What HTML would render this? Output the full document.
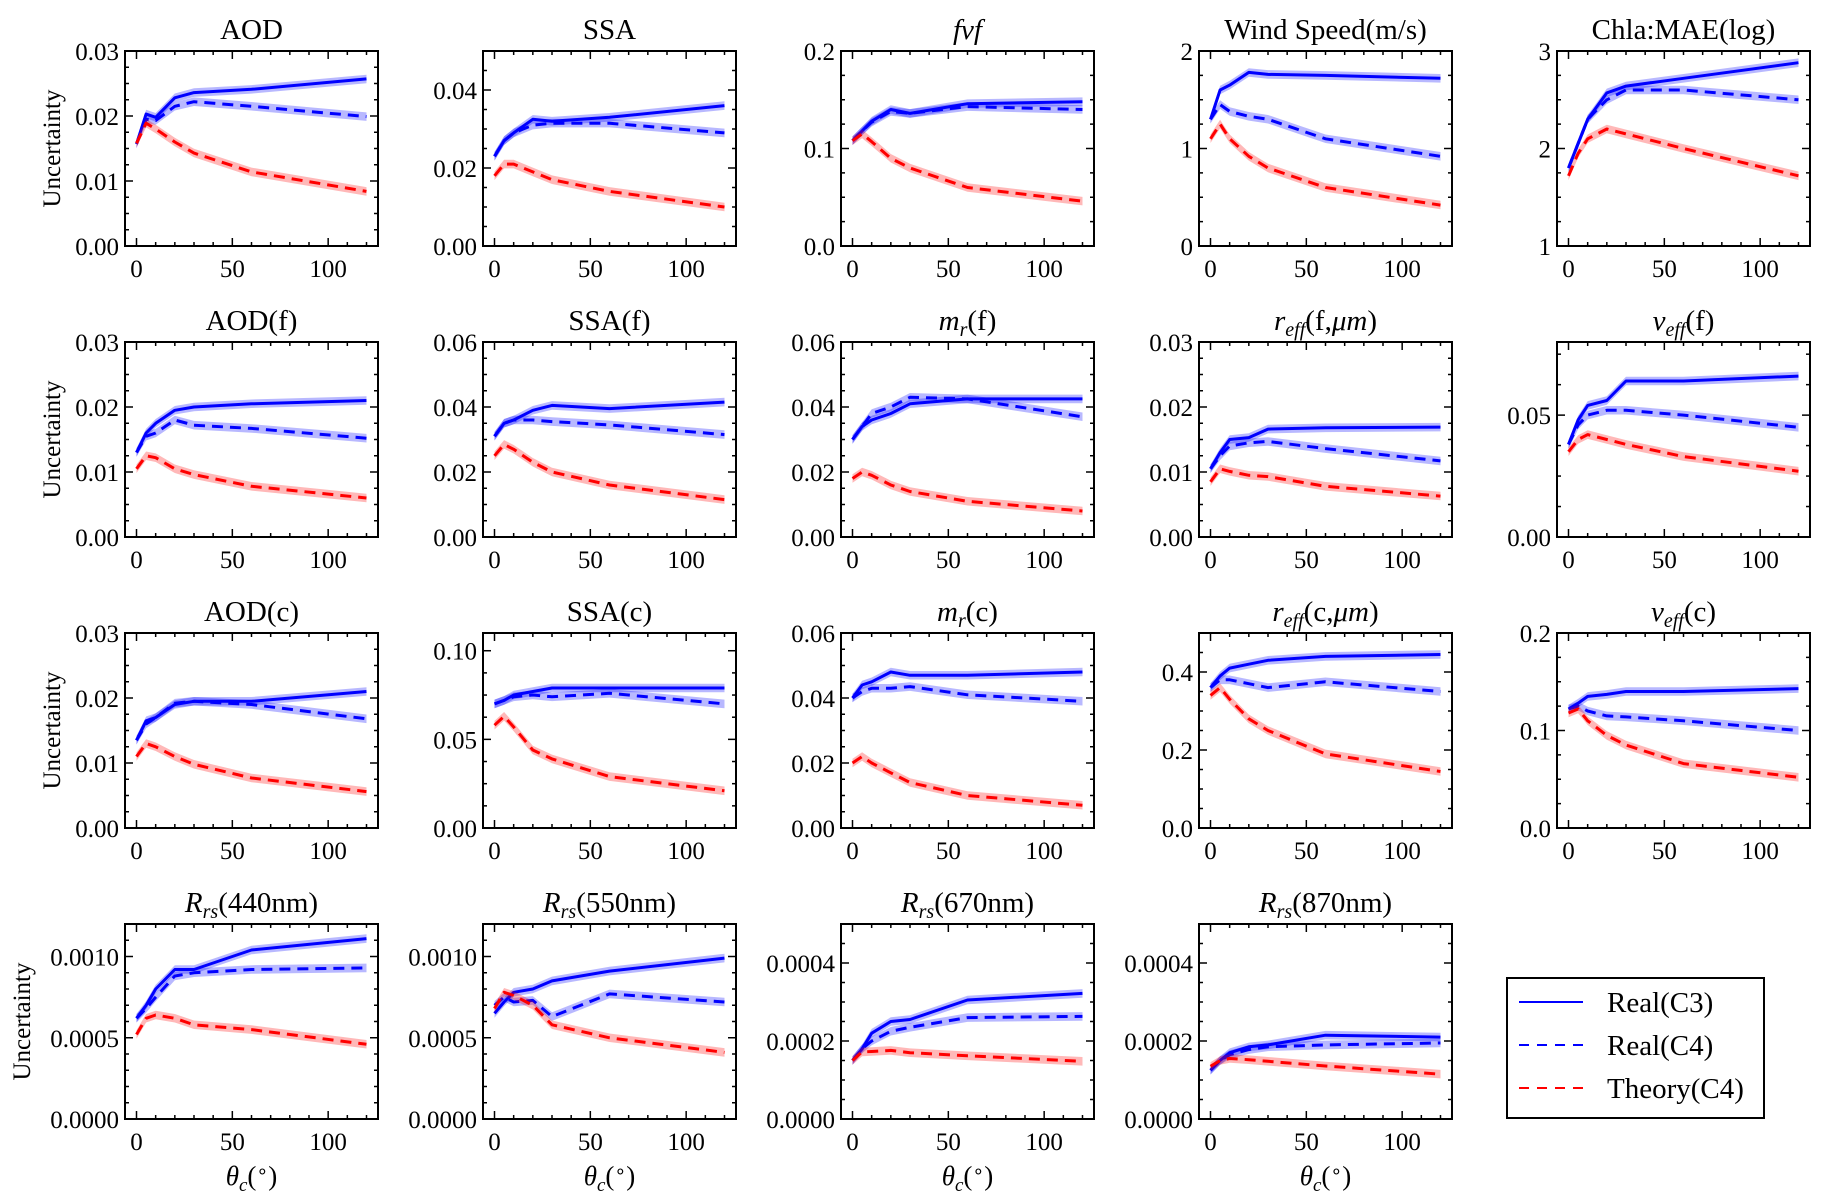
<!DOCTYPE html>
<html><head><meta charset="utf-8"><style>
html,body{margin:0;padding:0;background:#fff;}
svg{display:block;font-family:"Liberation Serif",serif;}
</style></head><body>
<svg id="fig" width="1828" height="1199" viewBox="0 0 1828 1199" xmlns="http://www.w3.org/2000/svg"></svg>
<script>
const thetaValues = [0, 5, 10, 20, 30, 60, 120];
const panelTitles = ["AOD","SSA","fvf","Wind Speed(m/s)","Chla:MAE(log)",
 "AOD(f)","SSA(f)","mr(f)","reff(f)","veff(f)",
 "AOD(c)","SSA(c)","mr(c)","reff(c)","veff(c)",
 "Rrs440","Rrs550","Rrs670","Rrs870"];
const yMinValues = [0,0,0,0,1, 0,0,0,0,0, 0,0,0,0,0, 0,0,0,0];
const yMaxValues = [0.03,0.05,0.2,2,3, 0.03,0.06,0.06,0.03,0.08, 0.03,0.11,0.06,0.5,0.2, 0.0012,0.0012,0.0005,0.0005];
const yTickValues = [
 [0,0.01,0.02,0.03],[0,0.02,0.04],[0,0.1,0.2],[0,1,2],[1,2,3],
 [0,0.01,0.02,0.03],[0,0.02,0.04,0.06],[0,0.02,0.04,0.06],[0,0.01,0.02,0.03],[0,0.05],
 [0,0.01,0.02,0.03],[0,0.05,0.1],[0,0.02,0.04,0.06],[0,0.2,0.4],[0,0.1,0.2],
 [0,0.0005,0.001],[0,0.0005,0.001],[0,0.0002,0.0004],[0,0.0002,0.0004]];
const yTickLabels = [
 ["0.00","0.01","0.02","0.03"],["0.00","0.02","0.04"],["0.0","0.1","0.2"],["0","1","2"],["1","2","3"],
 ["0.00","0.01","0.02","0.03"],["0.00","0.02","0.04","0.06"],["0.00","0.02","0.04","0.06"],["0.00","0.01","0.02","0.03"],["0.00","0.05"],
 ["0.00","0.01","0.02","0.03"],["0.00","0.05","0.10"],["0.00","0.02","0.04","0.06"],["0.0","0.2","0.4"],["0.0","0.1","0.2"],
 ["0.0000","0.0005","0.0010"],["0.0000","0.0005","0.0010"],["0.0000","0.0002","0.0004"],["0.0000","0.0002","0.0004"]];
const yMinorStep = [0.0025,0.005,0.025,0.25,0.25, 0.0025,0.005,0.005,0.0025,0.0125, 0.0025,0.0125,0.005,0.05,0.025, 0.0001,0.0001,0.00005,0.00005];
const realC3 = [
 [0.0157,0.0203,0.0198,0.0228,0.0236,0.0241,0.0257],
 [0.023,0.027,0.029,0.0325,0.032,0.033,0.036],
 [0.108,0.118,0.128,0.140,0.136,0.146,0.148],
 [1.3,1.6,1.65,1.78,1.76,1.75,1.72],
 [1.8,2.05,2.3,2.57,2.64,2.72,2.88],
 [0.013,0.016,0.0175,0.0195,0.020,0.0205,0.021],
 [0.031,0.035,0.036,0.039,0.0405,0.0395,0.0415],
 [0.030,0.034,0.036,0.038,0.041,0.0425,0.0425],
 [0.0105,0.013,0.015,0.0153,0.0166,0.0168,0.0169],
 [0.038,0.048,0.054,0.056,0.064,0.064,0.066],
 [0.0135,0.0165,0.017,0.019,0.0195,0.0195,0.021],
 [0.070,0.072,0.075,0.077,0.079,0.079,0.079],
 [0.040,0.044,0.045,0.048,0.047,0.047,0.048],
 [0.36,0.39,0.41,0.42,0.43,0.44,0.445],
 [0.122,0.128,0.135,0.137,0.14,0.14,0.143],
 [0.00062,0.00070,0.00080,0.00092,0.00092,0.00104,0.00111],
 [0.00065,0.00072,0.00078,0.00080,0.00085,0.00091,0.00099],
 [0.00015,0.00018,0.00022,0.00025,0.000255,0.000305,0.000322],
 [0.000125,0.00015,0.00017,0.000185,0.00019,0.000215,0.00021]];
const realC4 = [
 [0.0157,0.0195,0.0193,0.0215,0.0222,0.0215,0.0199],
 [0.023,0.027,0.029,0.031,0.0315,0.0315,0.029],
 [0.108,0.118,0.127,0.138,0.136,0.143,0.140],
 [1.3,1.45,1.38,1.33,1.30,1.1,0.92],
 [1.8,2.05,2.3,2.5,2.6,2.6,2.5],
 [0.013,0.0155,0.016,0.018,0.0172,0.0167,0.0152],
 [0.031,0.035,0.036,0.036,0.0355,0.0345,0.0315],
 [0.030,0.034,0.038,0.040,0.043,0.0425,0.037],
 [0.0105,0.0125,0.014,0.0145,0.0147,0.0136,0.0117],
 [0.038,0.046,0.050,0.052,0.052,0.050,0.045],
 [0.0135,0.016,0.017,0.0192,0.0195,0.019,0.0168],
 [0.070,0.072,0.074,0.075,0.074,0.076,0.070],
 [0.040,0.042,0.043,0.043,0.0435,0.041,0.039],
 [0.36,0.38,0.38,0.37,0.36,0.375,0.35],
 [0.122,0.125,0.12,0.115,0.114,0.11,0.10],
 [0.00062,0.00068,0.00075,0.00088,0.00090,0.00092,0.00093],
 [0.00070,0.00075,0.00072,0.00073,0.00063,0.00077,0.00072],
 [0.00015,0.00018,0.00020,0.000225,0.000235,0.00026,0.000263],
 [0.000125,0.00015,0.000165,0.000178,0.000185,0.00019,0.000195]];
const theoryC4 = [
 [0.0158,0.0189,0.0180,0.0160,0.0143,0.0114,0.0084],
 [0.018,0.021,0.021,0.019,0.017,0.014,0.010],
 [0.108,0.115,0.107,0.090,0.080,0.060,0.046],
 [1.1,1.25,1.1,0.92,0.8,0.6,0.42],
 [1.72,1.95,2.1,2.2,2.15,2.0,1.72],
 [0.0105,0.0125,0.0122,0.0105,0.0096,0.0078,0.006],
 [0.025,0.0285,0.027,0.023,0.020,0.016,0.0115],
 [0.018,0.020,0.019,0.016,0.014,0.011,0.008],
 [0.0085,0.0105,0.0101,0.0095,0.0093,0.0078,0.0063],
 [0.035,0.040,0.042,0.040,0.038,0.033,0.027],
 [0.011,0.013,0.0125,0.011,0.0098,0.0077,0.0056],
 [0.058,0.063,0.057,0.044,0.039,0.029,0.021],
 [0.020,0.022,0.020,0.017,0.014,0.010,0.007],
 [0.34,0.36,0.33,0.28,0.25,0.19,0.145],
 [0.118,0.122,0.11,0.095,0.085,0.066,0.052],
 [0.00052,0.00062,0.00064,0.00062,0.00058,0.00055,0.00046],
 [0.00068,0.00078,0.00076,0.00070,0.00058,0.00050,0.00041],
 [0.00015,0.000172,0.000173,0.000176,0.00017,0.000162,0.000148],
 [0.000135,0.00015,0.000155,0.000152,0.000148,0.000136,0.000115]];
const xTickValues = [0, 50, 100];

const NS = "http://www.w3.org/2000/svg";
const svg = document.getElementById('fig');
function mk(tag, attrs, parent) {
  const e = document.createElementNS(NS, tag);
  for (const k in attrs) e.setAttribute(k, attrs[k]);
  (parent || svg).appendChild(e);
  return e;
}
function titleMarkup(t) {
  const m = {
    "fvf": '<tspan font-style="italic">fvf</tspan>',
    "mr(f)": '<tspan font-style="italic">m</tspan><tspan font-style="italic" font-size="20" dy="6">r</tspan><tspan dy="-6">(f)</tspan>',
    "mr(c)": '<tspan font-style="italic">m</tspan><tspan font-style="italic" font-size="20" dy="6">r</tspan><tspan dy="-6">(c)</tspan>',
    "reff(f)": '<tspan font-style="italic">r</tspan><tspan font-style="italic" font-size="20" dy="6">eff</tspan><tspan dy="-6">(f,</tspan><tspan font-style="italic">μm</tspan>)',
    "reff(c)": '<tspan font-style="italic">r</tspan><tspan font-style="italic" font-size="20" dy="6">eff</tspan><tspan dy="-6">(c,</tspan><tspan font-style="italic">μm</tspan>)',
    "veff(f)": '<tspan font-style="italic">v</tspan><tspan font-style="italic" font-size="20" dy="6">eff</tspan><tspan dy="-6">(f)</tspan>',
    "veff(c)": '<tspan font-style="italic">v</tspan><tspan font-style="italic" font-size="20" dy="6">eff</tspan><tspan dy="-6">(c)</tspan>'
  };
  if (m[t]) return m[t];
  if (t.startsWith("Rrs")) return '<tspan font-style="italic">R</tspan><tspan font-style="italic" font-size="20" dy="6">rs</tspan><tspan dy="-6">(' + t.slice(3) + 'nm)</tspan>';
  return t;
}
const L0 = 125, DX = 358, T0 = 51, DY = 291, W = 253, H = 195;
const xMin = -6, xMax = 126;
for (let p = 0; p < panelTitles.length; p++) {
  const col = p % 5, row = Math.floor(p / 5);
  const left = L0 + col * DX, top = T0 + row * DY;
  const g = mk('g', {});
  
  
  const sx = v => left + (v - xMin) / (xMax - xMin) * W;
  const y0 = yMinValues[p], y1 = yMaxValues[p];
  const sy = v => top + H - (v - y0) / (y1 - y0) * H;
  const series = [[realC3[p], '#0000ff', 'none', 'rgba(0,0,255,0.28)', 'real-c3'],
                  [realC4[p], '#0000ff', '11,7', 'rgba(0,0,255,0.28)', 'real-c4'],
                  [theoryC4[p], '#ff0000', '11,7', 'rgba(255,0,0,0.28)', 'theory-c4']];
  const band = (y1 - y0) * 0.022;
  for (const [vals, color, dash, fill, nm] of series) {
    let up = [], dn = [];
    for (let i = 0; i < thetaValues.length; i++) {
      up.push(sx(thetaValues[i]).toFixed(1) + ',' + sy(vals[i] + band).toFixed(1));
      dn.unshift(sx(thetaValues[i]).toFixed(1) + ',' + sy(vals[i] - band).toFixed(1));
    }
    const b = mk('polygon', {points: up.concat(dn).join(' '), fill: fill, stroke: 'none'}, g);
    
    
    const pts = thetaValues.map((t, i) => sx(t).toFixed(1) + ',' + sy(vals[i]).toFixed(1)).join(' ');
    const a = {points: pts, fill: 'none', stroke: color, 'stroke-width': 3, 'stroke-linejoin': 'round'};
    if (dash !== 'none') a['stroke-dasharray'] = dash;
    const ln = mk('polyline', a, g);
    
    
  }
  const fr = mk('rect', {x: left, y: top, width: W, height: H, fill: 'none', stroke: '#000', 'stroke-width': 2}, g);
  
  
  for (let v = 0; v <= 120; v += 10) {
    const len = (v % 50 === 0) ? 8 : 4, x = sx(v);
    mk('line', {x1: x, y1: top + H, x2: x, y2: top + H - len, stroke: '#000', 'stroke-width': 1.5}, g);
    mk('line', {x1: x, y1: top, x2: x, y2: top + len, stroke: '#000', 'stroke-width': 1.5}, g);
  }
  for (const v of xTickValues) {
    const t = mk('text', {x: sx(v), y: top + H + 31, 'font-size': 25, 'text-anchor': 'middle'}, g);
    t.textContent = String(v);
    
    
  }
  const ms = yMinorStep[p];
  const n = Math.floor((y1 - y0) / ms + 1e-6);
  for (let i = 0; i <= n; i++) {
    const v = y0 + i * ms, y = sy(v);
    const major = yTickValues[p].some(tv => Math.abs(tv - v) < ms * 0.01);
    const len = major ? 8 : 4;
    mk('line', {x1: left, y1: y, x2: left + len, y2: y, stroke: '#000', 'stroke-width': 1.5}, g);
    mk('line', {x1: left + W, y1: y, x2: left + W - len, y2: y, stroke: '#000', 'stroke-width': 1.5}, g);
  }
  yTickValues[p].forEach((v, i) => {
    const t = mk('text', {x: left - 6, y: sy(v) + 9, 'font-size': 25, 'text-anchor': 'end'}, g);
    t.textContent = yTickLabels[p][i];
    
    
  });
  const tt = mk('text', {x: left + W / 2, y: top - 12, 'font-size': 29, 'text-anchor': 'middle'}, g);
  tt.innerHTML = titleMarkup(panelTitles[p]);
  
  
  if (col === 0) {
    const lx = row === 3 ? 30 : 60;
    const yl = mk('text', {x: 0, y: 0, 'font-size': 25, 'text-anchor': 'middle', transform: 'translate(' + lx + ',' + (top + H / 2) + ') rotate(-90)'}, g);
    yl.textContent = 'Uncertainty';
    
    
  }
  if (row === 3) {
    const xl = mk('text', {x: left + W / 2, y: top + H + 66, 'font-size': 27, 'text-anchor': 'middle'}, g);
    xl.innerHTML = '<tspan font-style="italic">θ</tspan><tspan font-style="italic" font-size="19" dy="6">c</tspan><tspan dy="-6">(</tspan><tspan dy="-7" font-size="19">∘</tspan><tspan dy="7">)</tspan>';
    
    
  }
}
const lg = mk('g', {});


mk('rect', {x: 1507, y: 978, width: 257, height: 140, fill: '#fff', stroke: '#000', 'stroke-width': 2}, lg);
const legendLabels = ['Real(C3)', 'Real(C4)', 'Theory(C4)'];
const legendColors = ['#0000ff', '#0000ff', '#ff0000'];
const legendDash = ['none', '10,8', '10,8'];
legendLabels.forEach((lab, i) => {
  const y = 1002 + i * 43;
  const e = mk('g', {}, lg);
  
  
  const a = {x1: 1519, y1: y, x2: 1583, y2: y, stroke: legendColors[i], 'stroke-width': 2};
  if (legendDash[i] !== 'none') a['stroke-dasharray'] = legendDash[i];
  mk('line', a, e);
  const t = mk('text', {x: 1607, y: y + 10, 'font-size': 29}, e);
  t.textContent = lab;
});
</script>
</body></html>
